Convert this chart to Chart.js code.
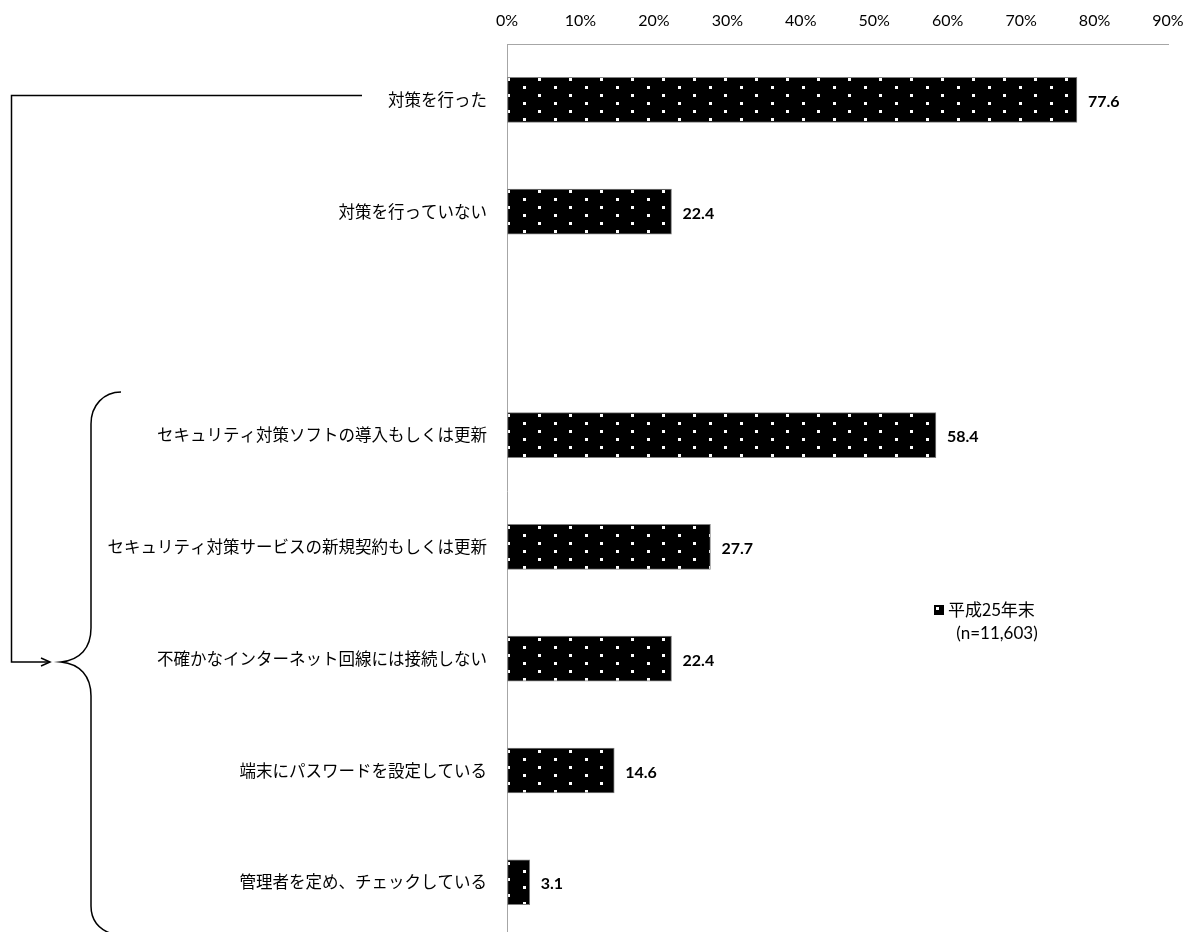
<!DOCTYPE html>
<html>
<head>
<meta charset="utf-8">
<script src="https://cdn.jsdelivr.net/npm/chart.js@4.4.1/dist/chart.umd.min.js"></script>
<style>
  html, body { margin: 0; padding: 0; background: #fff; overflow: hidden; }
  canvas { display: block; }
</style>
</head>
<body>
<canvas id="chart" width="1192" height="968"></canvas>
<script>
// データ
const categories = [
  '対策を行った',
  '対策を行っていない',
  '',
  'セキュリティ対策ソフトの導入もしくは更新',
  'セキュリティ対策サービスの新規契約もしくは更新',
  '不確かなインターネット回線には接続しない',
  '端末にパスワードを設定している',
  '管理者を定め、チェックしている'
];
const values = [77.6, 22.4, null, 58.4, 27.7, 22.4, 14.6, 3.1];
const xTicks = [0, 10, 20, 30, 40, 50, 60, 70, 80, 90];
const seriesLabel = '平成25年末';
const sampleNote = '(n=11,603)';

const JP = '"Noto Sans CJK JP", "Noto Sans", sans-serif';
const NUM = 'Lato, "Open Sans", sans-serif';

// 黒地に白ドットのパターン
function dotPattern() {
  const c = document.createElement('canvas');
  c.width = 31; c.height = 16;
  const g = c.getContext('2d');
  g.fillStyle = '#000';
  g.fillRect(0, 0, 31, 16);
  g.fillStyle = '#fff';
  g.fillRect(11, 14, 3, 3);
  g.fillRect(11, -2, 3, 3);
  g.fillRect(27, 6, 3, 3);
  return g.createPattern(c, 'repeat');
}
const pattern = dotPattern();

// 値ラベル
const valueLabels = {
  id: 'valueLabels',
  afterDatasetsDraw(chart) {
    const ctx = chart.ctx;
    const meta = chart.getDatasetMeta(0);
    ctx.save();
    ctx.font = 'bold 16px ' + NUM;
    ctx.fillStyle = '#000';
    ctx.textBaseline = 'middle';
    ctx.textAlign = 'left';
    meta.data.forEach((bar, i) => {
      const v = values[i];
      if (v == null) return;
      ctx.fillText(v.toFixed(1), bar.x + 11, bar.y + 2);
    });
    ctx.restore();
  }
};

// 凡例と括弧
const decorations = {
  id: 'decorations',
  afterDraw(chart) {
    const ctx = chart.ctx;
    ctx.save();

    // 凡例
    ctx.fillStyle = '#000';
    ctx.fillRect(934, 605, 10, 10);
    ctx.fillStyle = '#fff';
    ctx.fillRect(936, 607, 3, 3);
    ctx.fillStyle = '#000';
    ctx.font = '17px ' + JP;
    ctx.textBaseline = 'middle';
    ctx.textAlign = 'left';
    ctx.fillText(seriesLabel, 948, 610);
    ctx.font = '17px ' + NUM;
    ctx.textAlign = 'center';
    ctx.fillText(sampleNote, 997, 634);

    // 矢印の線
    ctx.strokeStyle = '#000';
    ctx.lineWidth = 1.5;
    ctx.beginPath();
    ctx.moveTo(362, 95.5);
    ctx.lineTo(11.5, 95.5);
    ctx.lineTo(11.5, 662);
    ctx.lineTo(49, 662);
    ctx.stroke();
    ctx.beginPath();
    ctx.moveTo(41, 658);
    ctx.lineTo(50, 662);
    ctx.lineTo(41, 666);
    ctx.stroke();

    // 中括弧
    ctx.beginPath();
    ctx.moveTo(121, 392);
    ctx.bezierCurveTo(104, 392, 91, 405, 91, 424);
    ctx.lineTo(91, 628);
    ctx.bezierCurveTo(91, 648, 80, 660, 61, 662);
    ctx.bezierCurveTo(80, 664, 91, 676, 91, 696);
    ctx.lineTo(91, 906);
    ctx.bezierCurveTo(91, 920, 98, 929, 112, 934);
    ctx.stroke();

    ctx.restore();
  }
};

new Chart(document.getElementById('chart'), {
  type: 'bar',
  data: {
    labels: categories,
    datasets: [{
      label: seriesLabel,
      data: values,
      backgroundColor: pattern,
      borderColor: '#7f7f7f',
      borderWidth: 1,
      borderSkipped: false,
      barThickness: 45
    }]
  },
  options: {
    indexAxis: 'y',
    responsive: false,
    animation: false,
    devicePixelRatio: 1,
    layout: { padding: { left: 0, right: 24, top: 0, bottom: 2 } },
    plugins: {
      legend: { display: false },
      tooltip: { enabled: false }
    },
    scales: {
      x: {
        position: 'top',
        min: 0,
        max: 90,
        afterBuildTicks(scale) {
          scale.ticks = xTicks.map(v => ({ value: v }));
        },
        afterFit(scale) {
          scale.height = 44;
          scale.paddingLeft = 0;
          scale.paddingRight = 0;
        },
        grid: { drawOnChartArea: false, drawTicks: false },
        border: { display: true, color: '#a6a6a6', width: 1 },
        ticks: {
          padding: 14,
          color: '#000',
          font: { family: NUM, size: 16 },
          maxRotation: 0,
          callback: v => v + '%'
        }
      },
      y: {
        afterFit(scale) { scale.width = 507; },
        grid: { drawOnChartArea: false, drawTicks: false },
        border: { display: true, color: '#a6a6a6', width: 1 },
        ticks: {
          padding: 20,
          color: '#000',
          font: { family: JP, size: 16.5 },
          autoSkip: false
        }
      }
    }
  },
  plugins: [valueLabels, decorations]
});
</script>
</body>
</html>
